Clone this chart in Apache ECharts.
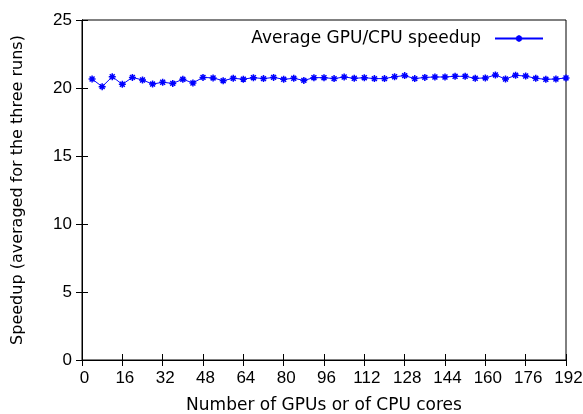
<!DOCTYPE html>
<html><head><meta charset="utf-8">
<script src="https://cdn.jsdelivr.net/npm/echarts@6/dist/echarts.min.js"></script>
<style>html,body{margin:0;padding:0;background:#fff}#c{width:583px;height:414px}</style>
</head><body><div id="c"></div>
<script>
const xValues = [4,8,12,16,20,24,28,32,36,40,44,48,52,56,60,64,68,72,76,80,84,88,92,96,100,104,108,112,116,120,124,128,132,136,140,144,148,152,156,160,164,168,172,176,180,184,188,192];
const speedup = [20.66,20.10,20.83,20.27,20.78,20.59,20.29,20.42,20.34,20.64,20.37,20.78,20.74,20.54,20.71,20.65,20.76,20.69,20.78,20.64,20.71,20.56,20.76,20.76,20.69,20.81,20.71,20.76,20.69,20.69,20.83,20.91,20.69,20.78,20.81,20.81,20.86,20.86,20.71,20.74,20.96,20.66,20.93,20.88,20.71,20.64,20.66,20.74];
const xTicks = {min:0, max:192, interval:16};
const yTicks = {min:0, max:25, interval:5};
const seriesName = 'Average GPU/CPU speedup';

const nameFont = 'DejaVu Sans, sans-serif';
const tickFont = 'Liberation Sans, Arial, sans-serif';
const chart = echarts.init(document.getElementById('c'));
const star = 'path://M0,5L10,5M5,0L5,10M1.5,1.5L8.5,8.5M8.5,1.5L1.5,8.5';
const tickStyle = {show:true, inside:true, length:6, lineStyle:{color:'#000', width:1}};
chart.setOption({
  animation:false,
  grid:{left:82, right:17, top:20, bottom:54, show:true, borderColor:'#000', borderWidth:1,
        containLabel:false, outerBoundsMode:'none'},
  legend:{
    data:[seriesName], top:25, right:34, align:'right', itemWidth:48, itemHeight:8,
    textStyle:{fontFamily:nameFont, fontSize:17, color:'#000', padding:[0,9,0,0]}
  },
  xAxis:[
    {type:'value', min:xTicks.min, max:xTicks.max, interval:xTicks.interval,
     name:'Number of GPUs or of CPU cores', nameLocation:'middle', nameGap:37,
     nameTextStyle:{fontFamily:nameFont, fontSize:17, color:'#000'},
     axisLine:{lineStyle:{color:'#000'}}, axisTick:tickStyle, splitLine:{show:false},
     axisLabel:{fontFamily:tickFont, fontSize:17, color:'#000', margin:10, padding:[0,0,0,5]}},
    {type:'value', position:'top', min:xTicks.min, max:xTicks.max, interval:xTicks.interval,
     axisLine:{show:true, lineStyle:{color:'#000'}}, axisTick:tickStyle, axisLabel:{show:false}, splitLine:{show:false}}
  ],
  yAxis:[
    {type:'value', min:yTicks.min, max:yTicks.max, interval:yTicks.interval,
     name:'Speedup (averaged for the three runs)', nameLocation:'middle', nameGap:56,
     nameTextStyle:{fontFamily:nameFont, fontSize:16, color:'#000'},
     axisLine:{show:true, lineStyle:{color:'#000'}}, axisTick:tickStyle, splitLine:{show:false},
     axisLabel:{fontFamily:tickFont, fontSize:17, color:'#000', margin:10}},
    {type:'value', position:'right', min:yTicks.min, max:yTicks.max, interval:yTicks.interval,
     axisLine:{show:true, lineStyle:{color:'#000'}}, axisTick:tickStyle, axisLabel:{show:false}, splitLine:{show:false}}
  ],
  series:[{
    name:seriesName, type:'line', xAxisIndex:0, yAxisIndex:0,
    data:xValues.map((x,i)=>[x, speedup[i]]),
    symbol:star, symbolSize:7, showAllSymbol:true,
    lineStyle:{color:'#0000ff', width:1},
    itemStyle:{color:'#0000ff', borderColor:'#0000ff', borderWidth:1.5}
  }]
});
</script></body></html>
